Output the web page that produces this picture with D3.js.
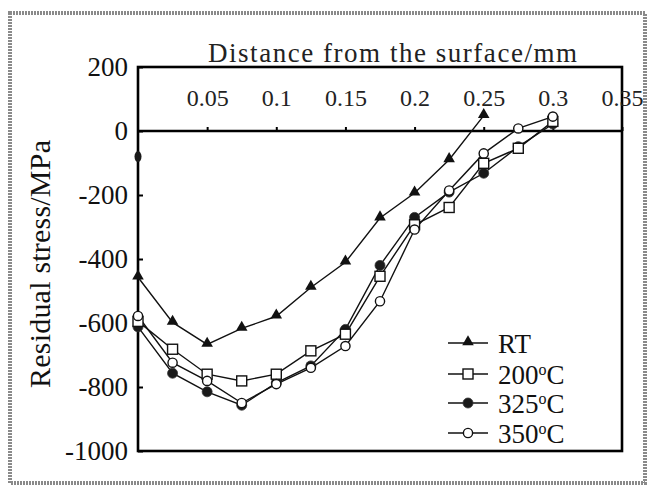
<!DOCTYPE html>
<html>
<head>
<meta charset="utf-8">
<script src="https://cdn.jsdelivr.net/npm/d3@7"></script>
<style>
  body { margin: 0; background: #fff; }
  svg { display: block; font-family: "Liberation Serif", "DejaVu Serif", serif; }
</style>
</head>
<body>
<div class="graphContainer"></div>
<script>
// canvas size
const w = 649;
const h = 487;

// distance from the surface (mm)
const depth = [0, 0.025, 0.05, 0.075, 0.1, 0.125, 0.15, 0.175, 0.2, 0.225, 0.25, 0.275, 0.3];

// residual stress (MPa) per series
const rtStress  = [-457, -598, -667, -617, -579, -489, -410, -272, -194, -90, 48];
const s200      = [-595, -682, -760, -781, -760, -687, -635, -454, -293, -239, -101, -54, 30];
const s325      = [-612, -757, -815, -857, -787, -734, -620, -420, -270, -191, -132, -49, 22];
const s350      = [-578, -724, -781, -850, -791, -740, -672, -532, -308, -186, -70, 8, 45];

// lone surface point drawn with no line
const loneDepth = [0];
const loneStress = [-80];

const xTicks = [0.05, 0.1, 0.15, 0.2, 0.25, 0.3, 0.35];
const xTickLabels = ["0.05", "0.1", "0.15", "0.2", "0.25", "0.3", "0.35"];
const yTicks = [200, 0, -200, -400, -600, -800, -1000];
const yTickLabels = ["200", "0", "-200", "-400", "-600", "-800", "-1000"];

const seriesNames = ["RT", "200", "325", "350"];
const seriesValues = [rtStress, s200, s325, s350];
const seriesMarks = ["triangle", "square", "dot", "circle"];

const svg = d3.select(".graphContainer").append("svg")
  .attr("width", w)
  .attr("height", h);

svg.append("rect").attr("width", w).attr("height", h).attr("fill", "#fff");

// scanned-paper border
svg.append("rect")
  .attr("x", 10).attr("y", 13).attr("width", 635).attr("height", 470)
  .attr("fill", "none")
  .attr("stroke", "#8a8a8a")
  .attr("stroke-width", 4)
  .attr("stroke-dasharray", "2 1");

const xScale = d3.scaleLinear().domain([0, 0.35]).range([138, 622]);
const yScale = d3.scaleLinear().domain([-1000, 200]).range([451, 67]);

// frame
svg.append("rect")
  .attr("x", xScale(0)).attr("y", yScale(200))
  .attr("width", xScale(0.35) - xScale(0))
  .attr("height", yScale(-1000) - yScale(200))
  .attr("fill", "none")
  .attr("stroke", "#000")
  .attr("stroke-width", 2.6);

// zero line
svg.append("line")
  .attr("x1", xScale(0)).attr("x2", xScale(0.35))
  .attr("y1", yScale(0)).attr("y2", yScale(0))
  .attr("stroke", "#000").attr("stroke-width", 2.6);

// x axis sits on the zero line, labels above it
const xAxis = d3.axisTop(xScale)
  .tickValues(xTicks)
  .tickSize(4)
  .tickPadding(21)
  .tickFormat((d, i) => xTickLabels[i]);

const gx = svg.append("g")
  .attr("transform", "translate(0," + yScale(0) + ")")
  .call(xAxis);
gx.select(".domain").remove();
gx.selectAll("line").attr("stroke", "#000").attr("stroke-width", 2);
gx.selectAll("text")
  .attr("font-family", "Liberation Serif")
  .attr("font-size", 24)
  .attr("fill", "#222");

const yAxis = d3.axisLeft(yScale)
  .tickValues(yTicks)
  .tickSize(-5)
  .tickPadding(10)
  .tickFormat((d, i) => yTickLabels[i]);

const gy = svg.append("g")
  .attr("transform", "translate(" + xScale(0) + ",0)")
  .call(yAxis);
gy.select(".domain").remove();
gy.selectAll("line").attr("stroke", "#000").attr("stroke-width", 2);
gy.selectAll("text")
  .attr("font-family", "Liberation Serif")
  .attr("font-size", 27)
  .attr("fill", "#111");

// titles
svg.append("text")
  .attr("x", 208).attr("y", 62)
  .attr("font-size", 27)
  .attr("textLength", 369)
  .attr("lengthAdjust", "spacing")
  .attr("fill", "#222")
  .text("Distance from the surface/mm");

svg.append("text")
  .attr("transform", "translate(50,264) rotate(-90)")
  .attr("text-anchor", "middle")
  .attr("font-size", 30)
  .attr("textLength", 248)
  .attr("lengthAdjust", "spacing")
  .attr("fill", "#111")
  .text("Residual stress/MPa");

// markers
function drawMark(g, kind, x, y) {
  if (kind === "triangle") {
    g.append("path")
      .attr("d", d3.symbol(d3.symbolTriangle, 58)())
      .attr("transform", "translate(" + x + "," + (y - 1) + ")")
      .attr("fill", "#111");
  } else if (kind === "square") {
    g.append("rect")
      .attr("x", x - 5).attr("y", y - 5)
      .attr("width", 10).attr("height", 10)
      .attr("fill", "#fff").attr("stroke", "#111").attr("stroke-width", 1.4);
  } else if (kind === "dot") {
    g.append("circle")
      .attr("cx", x).attr("cy", y).attr("r", 5)
      .attr("fill", "#1a1a1a").attr("stroke", "#333").attr("stroke-width", 0.8);
  } else {
    g.append("circle")
      .attr("cx", x).attr("cy", y).attr("r", 4.6)
      .attr("fill", "#fff").attr("stroke", "#111").attr("stroke-width", 1.4);
  }
}

const line = d3.line()
  .x((d, i) => xScale(depth[i]))
  .y(d => yScale(d));

const plot = svg.append("g");

seriesValues.forEach((vals) => {
  plot.append("path")
    .attr("d", line(vals))
    .attr("fill", "none")
    .attr("stroke", "#111")
    .attr("stroke-width", 1.4);
});

// draw open marks last so they sit on top like the print
[0, 2, 1, 3].forEach((s) => {
  const g = plot.append("g");
  seriesValues[s].forEach((v, i) => drawMark(g, seriesMarks[s], xScale(depth[i]), yScale(v)));
});

loneDepth.forEach((d, i) => {
  plot.append("ellipse")
    .attr("cx", xScale(d)).attr("cy", yScale(loneStress[i]))
    .attr("rx", 3.5).attr("ry", 5.5)
    .attr("fill", "#1a1a1a");
});

// legend
const legendY = [343, 374, 403, 433];
const legend = svg.append("g");
seriesNames.forEach((name, i) => {
  const y = legendY[i];
  legend.append("line")
    .attr("x1", 448).attr("x2", 488)
    .attr("y1", y).attr("y2", y)
    .attr("stroke", "#111").attr("stroke-width", 1.4);
  drawMark(legend, seriesMarks[i], 468, y);
  const t = legend.append("text")
    .attr("x", 498).attr("y", y + 10)
    .attr("font-size", 27)
    .attr("fill", "#111");
  if (name === "RT") {
    t.text("RT");
  } else {
    t.append("tspan").text(name);
    t.append("tspan").attr("dy", -9).attr("font-size", 16).text("o");
    t.append("tspan").attr("dy", 9).text("C");
  }
});
</script>
</body>
</html>
